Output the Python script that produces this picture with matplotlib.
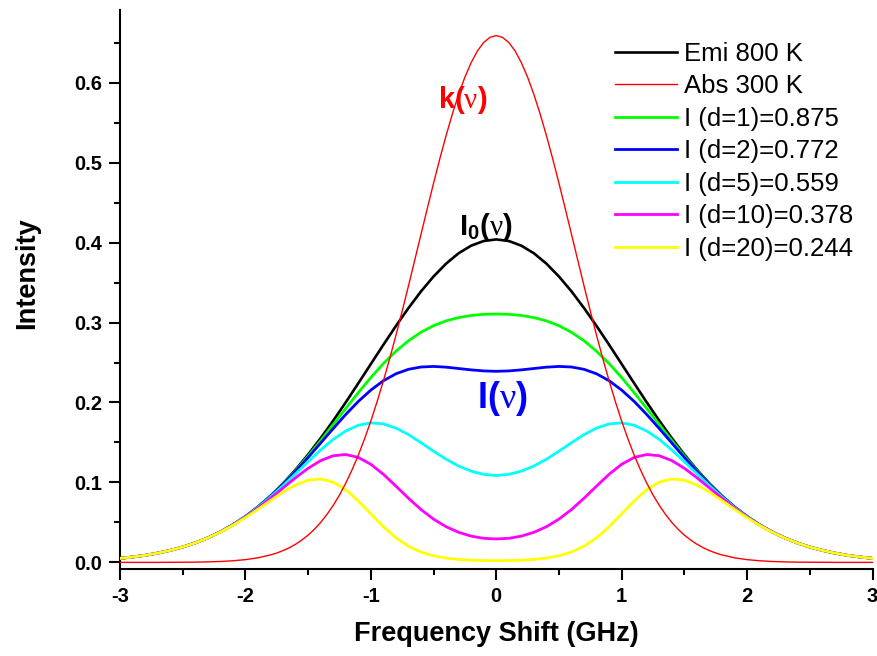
import matplotlib
matplotlib.use("Agg")
import matplotlib.pyplot as plt
from matplotlib.ticker import MultipleLocator, FormatStrFormatter

plt.rcParams['font.family'] = ['Liberation Sans', 'DejaVu Sans']
plt.rcParams['axes.unicode_minus'] = False
plt.rcParams['mathtext.fontset'] = 'custom'
plt.rcParams['mathtext.bf'] = 'Liberation Sans:bold'
plt.rcParams['mathtext.rm'] = 'Liberation Serif'
plt.rcParams['mathtext.it'] = 'Liberation Serif:italic'

# Frequency shift (GHz), -3 ... 3 in 0.1 steps
freq = [-3.0, -2.9, -2.8, -2.7, -2.6, -2.5, -2.4, -2.3, -2.2, -2.1,
        -2.0, -1.9, -1.8, -1.7, -1.6, -1.5, -1.4, -1.3, -1.2, -1.1,
        -1.0, -0.9, -0.8, -0.7, -0.6, -0.5, -0.4, -0.3, -0.2, -0.1,
        0.0, 0.1, 0.2, 0.3, 0.4, 0.5, 0.6, 0.7, 0.8, 0.9,
        1.0, 1.1, 1.2, 1.3, 1.4, 1.5, 1.6, 1.7, 1.8, 1.9,
        2.0, 2.1, 2.2, 2.3, 2.4, 2.5, 2.6, 2.7, 2.8, 2.9, 3.0]

# finer sampling for the narrow absorption profile
freq_abs = [-3.0, -2.9, -2.8, -2.7, -2.6, -2.5, -2.4, -2.3, -2.2, -2.1, -2.0, -1.9, -1.8,
            -1.75, -1.7, -1.65, -1.6, -1.55, -1.5, -1.45, -1.4, -1.35, -1.3, -1.25, -1.2,
            -1.15, -1.1, -1.05, -1.0, -0.95, -0.9, -0.85, -0.8, -0.75, -0.7, -0.65, -0.6,
            -0.55, -0.5, -0.45, -0.4, -0.35, -0.3, -0.25, -0.2, -0.15, -0.1, -0.05,
            0.0,
            0.05, 0.1, 0.15, 0.2, 0.25, 0.3, 0.35, 0.4, 0.45, 0.5, 0.55, 0.6,
            0.65, 0.7, 0.75, 0.8, 0.85, 0.9, 0.95, 1.0, 1.05, 1.1, 1.15, 1.2,
            1.25, 1.3, 1.35, 1.4, 1.45, 1.5, 1.55, 1.6, 1.65, 1.7, 1.75,
            1.8, 1.9, 2.0, 2.1, 2.2, 2.3, 2.4, 2.5, 2.6, 2.7, 2.8, 2.9, 3.0]

abs_300 = [0.0000, 0.0000, 0.0000, 0.0000, 0.0001, 0.0002, 0.0003, 0.0006, 0.0011, 0.0020, 0.0034, 0.0057, 0.0093,
           0.0117, 0.0147, 0.0183, 0.0227, 0.0279, 0.0341, 0.0414, 0.0500, 0.0599, 0.0713, 0.0843, 0.0991,
           0.1157, 0.1341, 0.1545, 0.1768, 0.2010, 0.2270, 0.2547, 0.2839, 0.3144, 0.3458, 0.3780, 0.4104,
           0.4426, 0.4743, 0.5049, 0.5339, 0.5609, 0.5854, 0.6070, 0.6252, 0.6398, 0.6504, 0.6568,
           0.6590,
           0.6568, 0.6504, 0.6398, 0.6252, 0.6070, 0.5854, 0.5609, 0.5339, 0.5049, 0.4743, 0.4426, 0.4104,
           0.3780, 0.3458, 0.3144, 0.2839, 0.2547, 0.2270, 0.2010, 0.1768, 0.1545, 0.1341, 0.1157, 0.0991,
           0.0843, 0.0713, 0.0599, 0.0500, 0.0414, 0.0341, 0.0279, 0.0227, 0.0183, 0.0147, 0.0117,
           0.0093, 0.0057, 0.0034, 0.0020, 0.0011, 0.0006, 0.0003, 0.0002, 0.0001, 0.0000, 0.0000, 0.0000, 0.0000]

emi_800 = [0.0050, 0.0067, 0.0088, 0.0116, 0.0150, 0.0192, 0.0244, 0.0306, 0.0382, 0.0471,
           0.0575, 0.0695, 0.0832, 0.0987, 0.1160, 0.1349, 0.1554, 0.1772, 0.2002, 0.2240,
           0.2481, 0.2722, 0.2957, 0.3181, 0.3390, 0.3576, 0.3737, 0.3867, 0.3962, 0.4020,
           0.4040, 0.4020, 0.3962, 0.3867, 0.3737, 0.3576, 0.3390, 0.3181, 0.2957, 0.2722,
           0.2481, 0.2240, 0.2002, 0.1772, 0.1554, 0.1349, 0.1160, 0.0987, 0.0832, 0.0695,
           0.0575, 0.0471, 0.0382, 0.0306, 0.0244, 0.0192, 0.0150, 0.0116, 0.0088, 0.0067, 0.0050]

i_d1 = [0.0050, 0.0067, 0.0088, 0.0116, 0.0150, 0.0192, 0.0244, 0.0306, 0.0381, 0.0470,
        0.0574, 0.0693, 0.0829, 0.0981, 0.1149, 0.1331, 0.1523, 0.1723, 0.1925, 0.2123,
        0.2312, 0.2487, 0.2641, 0.2772, 0.2878, 0.2961, 0.3021, 0.3062, 0.3089, 0.3103,
        0.3107, 0.3103, 0.3089, 0.3062, 0.3021, 0.2961, 0.2878, 0.2772, 0.2641, 0.2487,
        0.2312, 0.2123, 0.1925, 0.1723, 0.1523, 0.1331, 0.1149, 0.0981, 0.0829, 0.0693,
        0.0574, 0.0470, 0.0381, 0.0306, 0.0244, 0.0192, 0.0150, 0.0116, 0.0088, 0.0067, 0.0050]

i_d2 = [0.0050, 0.0067, 0.0088, 0.0116, 0.0150, 0.0192, 0.0244, 0.0306, 0.0381, 0.0470,
        0.0573, 0.0692, 0.0826, 0.0976, 0.1139, 0.1313, 0.1493, 0.1674, 0.1850, 0.2013,
        0.2155, 0.2272, 0.2359, 0.2415, 0.2444, 0.2451, 0.2442, 0.2425, 0.2408, 0.2395,
        0.2390, 0.2395, 0.2408, 0.2425, 0.2442, 0.2451, 0.2444, 0.2415, 0.2359, 0.2272,
        0.2155, 0.2013, 0.1850, 0.1674, 0.1493, 0.1313, 0.1139, 0.0976, 0.0826, 0.0692,
        0.0573, 0.0470, 0.0381, 0.0306, 0.0244, 0.0192, 0.0150, 0.0116, 0.0088, 0.0067, 0.0050]

i_d5 = [0.0050, 0.0067, 0.0088, 0.0116, 0.0150, 0.0192, 0.0243, 0.0306, 0.0381, 0.0469,
        0.0571, 0.0687, 0.0817, 0.0959, 0.1108, 0.1260, 0.1406, 0.1538, 0.1643, 0.1715,
        0.1745, 0.1732, 0.1680, 0.1598, 0.1497, 0.1391, 0.1290, 0.1205, 0.1141, 0.1101,
        0.1087, 0.1101, 0.1141, 0.1205, 0.1290, 0.1391, 0.1497, 0.1598, 0.1680, 0.1732,
        0.1745, 0.1715, 0.1643, 0.1538, 0.1406, 0.1260, 0.1108, 0.0959, 0.0817, 0.0687,
        0.0571, 0.0469, 0.0381, 0.0306, 0.0243, 0.0192, 0.0150, 0.0116, 0.0088, 0.0067, 0.0050]

i_d10 = [0.0050, 0.0067, 0.0088, 0.0116, 0.0150, 0.0192, 0.0243, 0.0306, 0.0380, 0.0467,
         0.0567, 0.0679, 0.0802, 0.0931, 0.1059, 0.1177, 0.1273, 0.1334, 0.1349, 0.1313,
         0.1227, 0.1102, 0.0954, 0.0802, 0.0661, 0.0541, 0.0446, 0.0376, 0.0328, 0.0301,
         0.0293, 0.0301, 0.0328, 0.0376, 0.0446, 0.0541, 0.0661, 0.0802, 0.0954, 0.1102,
         0.1227, 0.1313, 0.1349, 0.1334, 0.1273, 0.1177, 0.1059, 0.0931, 0.0802, 0.0679,
         0.0567, 0.0467, 0.0380, 0.0306, 0.0243, 0.0192, 0.0150, 0.0116, 0.0088, 0.0067, 0.0050]

i_d20 = [0.0050, 0.0067, 0.0088, 0.0116, 0.0150, 0.0192, 0.0243, 0.0305, 0.0378, 0.0463,
         0.0559, 0.0664, 0.0773, 0.0878, 0.0968, 0.1028, 0.1043, 0.1004, 0.0909, 0.0769,
         0.0607, 0.0446, 0.0308, 0.0202, 0.0129, 0.0082, 0.0053, 0.0036, 0.0027, 0.0023,
         0.0021, 0.0023, 0.0027, 0.0036, 0.0053, 0.0082, 0.0129, 0.0202, 0.0308, 0.0446,
         0.0607, 0.0769, 0.0909, 0.1004, 0.1043, 0.1028, 0.0968, 0.0878, 0.0773, 0.0664,
         0.0559, 0.0463, 0.0378, 0.0305, 0.0243, 0.0192, 0.0150, 0.0116, 0.0088, 0.0067, 0.0050]

series_labels = ["Emi 800 K", "Abs 300 K", "I (d=1)=0.875", "I (d=2)=0.772",
                 "I (d=5)=0.559", "I (d=10)=0.378", "I (d=20)=0.244"]
x_ticks = [-3, -2, -1, 0, 1, 2, 3]
y_ticks = [0.0, 0.1, 0.2, 0.3, 0.4, 0.5, 0.6]

fig = plt.figure(figsize=(8.77, 6.56), dpi=100)
ax = fig.add_axes([120 / 877, 87 / 656, 752.5 / 877, 559 / 656])

ax.plot(freq, emi_800, color='black', lw=1.9, label=series_labels[0], zorder=3)
ax.plot(freq_abs, abs_300, color='#ff0000', lw=1.0, label=series_labels[1], zorder=4)
ax.plot(freq, i_d1, color='#00ff00', lw=2.0, label=series_labels[2], zorder=3)
ax.plot(freq, i_d2, color='#0000ff', lw=2.0, label=series_labels[3], zorder=3)
ax.plot(freq, i_d5, color='#00ffff', lw=2.0, label=series_labels[4], zorder=3)
ax.plot(freq, i_d10, color='#ff00ff', lw=2.0, label=series_labels[5], zorder=3)
ax.plot(freq, i_d20, color='#ffff00', lw=2.0, label=series_labels[6], zorder=3)

ax.set_xlim(-3, 3)
ax.set_ylim(-0.0083, 0.691)
ax.set_xticks(x_ticks)
ax.set_yticks(y_ticks)
ax.xaxis.set_minor_locator(MultipleLocator(0.5))
ax.yaxis.set_minor_locator(MultipleLocator(0.05))
ax.xaxis.set_major_formatter(FormatStrFormatter('%d'))
ax.yaxis.set_major_formatter(FormatStrFormatter('%.1f'))

for s in ['top', 'right']:
    ax.spines[s].set_visible(False)
for s in ['left', 'bottom']:
    ax.spines[s].set_linewidth(1.5)

ax.tick_params(which='major', direction='out', length=8, width=1.5, pad=5,
               labelsize=14.5)
ax.tick_params(which='minor', direction='out', length=4.5, width=1.5)
for lab in ax.get_xticklabels() + ax.get_yticklabels():
    lab.set_fontweight('bold')

ax.set_xlabel('Frequency Shift (GHz)', fontsize=19.5, fontweight='bold')
ax.set_ylabel('Intensity', fontsize=19.5, fontweight='bold')
ax.xaxis.set_label_coords(0.5, -0.093)
ax.yaxis.set_label_coords(-0.106, 0.53)

ax.text(-0.27, 0.578, r'$\mathbf{k(}\mathrm{\nu}\mathbf{)}$', color='#ff0000',
        fontsize=21, ha='center', va='center')
ax.text(-0.08, 0.42, r'$\mathbf{I_0(}\mathrm{\nu}\mathbf{)}$', color='black',
        fontsize=21, ha='center', va='center')
ax.text(0.05, 0.205, r'$\mathbf{I(}\mathrm{\nu}\mathbf{)}$', color='#0000ff',
        fontsize=26, ha='center', va='center')

leg = ax.legend(loc='upper left', bbox_to_anchor=(615 / 877, 1 - 42 / 656),
                bbox_transform=fig.transFigure, frameon=False, fontsize=18.5,
                handlelength=2.4, handletextpad=0.3, labelspacing=0.33,
                borderpad=0, borderaxespad=0)

fig.savefig('out.png', dpi=100)
